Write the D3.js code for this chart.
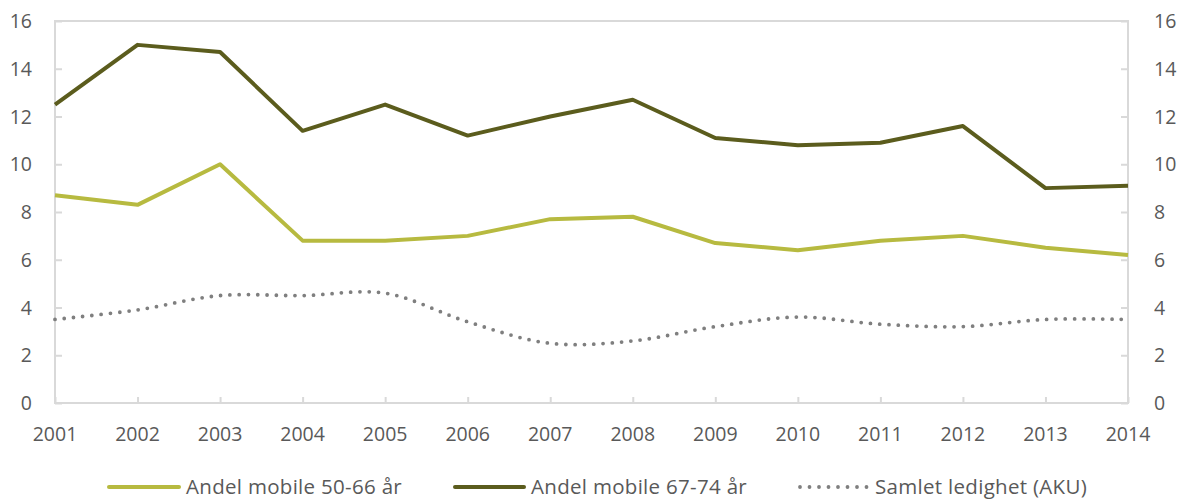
<!DOCTYPE html>
<html>
<head>
<meta charset="utf-8">
<script src="https://cdn.jsdelivr.net/npm/d3@7"></script>
<style>
  html, body { margin: 0; padding: 0; background: #fff; }
  svg text { font-family: "Open Sans", sans-serif; fill: #595959; }
</style>
</head>
<body>
<svg id="chart" width="1189" height="501"></svg>
<script>
// Years on the horizontal axis
const years = [2001, 2002, 2003, 2004, 2005, 2006, 2007, 2008, 2009, 2010, 2011, 2012, 2013, 2014];
// Share mobile, age 50-66 (%)
const mobile5066 = [8.7, 8.3, 10.0, 6.8, 6.8, 7.0, 7.7, 7.8, 6.7, 6.4, 6.8, 7.0, 6.5, 6.2];
// Share mobile, age 67-74 (%)
const mobile6774 = [12.5, 15.0, 14.7, 11.4, 12.5, 11.2, 12.0, 12.7, 11.1, 10.8, 10.9, 11.6, 9.0, 9.1];
// Total unemployment (AKU, %)
const unemployment = [3.5, 3.9, 4.5, 4.5, 4.6, 3.4, 2.5, 2.6, 3.2, 3.6, 3.3, 3.2, 3.5, 3.5];
// Value axis ticks
const yTicks = [0, 2, 4, 6, 8, 10, 12, 14, 16];
// Legend labels
const seriesNames = ["Andel mobile 50-66 år", "Andel mobile 67-74 år", "Samlet ledighet (AKU)"];

const svg = d3.select("#chart");
const plot = { left: 55, right: 1128, top: 21, bottom: 403 };
const axisColor = "#d9d9d9";

const x = d3.scalePoint().domain(years).range([plot.left, plot.right]);
const y = d3.scaleLinear().domain([0, 16]).range([plot.bottom, plot.top]);

// Frame of the plot area
svg.append("rect")
  .attr("x", plot.left).attr("y", plot.top)
  .attr("width", plot.right - plot.left).attr("height", plot.bottom - plot.top)
  .attr("fill", "none").attr("stroke", axisColor).attr("stroke-width", 2);

// Left value axis
const yLeft = svg.append("g").attr("transform", `translate(${plot.left},0)`)
  .call(d3.axisRight(y).tickValues(yTicks).tickSize(7).tickFormat(() => ""));
yLeft.select(".domain").remove();
yLeft.selectAll("line").attr("stroke", axisColor).attr("stroke-width", 2);
svg.append("g").selectAll("text").data(yTicks).join("text")
  .attr("x", 32).attr("y", d => y(d)).attr("dy", "0.36em")
  .attr("text-anchor", "end").attr("font-size", 19.5).text(d => d);

// Right value axis
const yRight = svg.append("g").attr("transform", `translate(${plot.right},0)`)
  .call(d3.axisLeft(y).tickValues(yTicks).tickSize(7).tickFormat(() => ""));
yRight.select(".domain").remove();
yRight.selectAll("line").attr("stroke", axisColor).attr("stroke-width", 2);
svg.append("g").selectAll("text").data(yTicks).join("text")
  .attr("x", 1154).attr("y", d => y(d)).attr("dy", "0.36em")
  .attr("text-anchor", "start").attr("font-size", 19.5).text(d => d);

// Category axis
const xAxis = svg.append("g").attr("transform", `translate(0,${plot.bottom})`)
  .call(d3.axisTop(x).tickSize(6).tickFormat(() => ""));
xAxis.select(".domain").remove();
xAxis.selectAll("line").attr("stroke", axisColor).attr("stroke-width", 2);
svg.append("g").selectAll("text").data(years).join("text")
  .attr("x", d => x(d)).attr("y", 441)
  .attr("text-anchor", "middle").attr("font-size", 19.5).text(d => d);

// Series lines
const straight = d3.line().x((d, i) => x(years[i])).y(d => y(d));
const smooth = d3.line().x((d, i) => x(years[i])).y(d => y(d)).curve(d3.curveCatmullRom.alpha(0.5));

svg.append("path").datum(unemployment).attr("d", smooth)
  .attr("fill", "none").attr("stroke", "#7f7f7f").attr("stroke-width", 3.8)
  .attr("stroke-linecap", "round").attr("stroke-dasharray", "0 9.3");
svg.append("path").datum(mobile5066).attr("d", straight)
  .attr("fill", "none").attr("stroke", "#b7ba40").attr("stroke-width", 4)
  .attr("stroke-linejoin", "round");
svg.append("path").datum(mobile6774).attr("d", straight)
  .attr("fill", "none").attr("stroke", "#5b5c1d").attr("stroke-width", 4)
  .attr("stroke-linejoin", "round");

// Legend
const legend = [
  { name: seriesNames[0], x1: 109, x2: 179, tx: 186, color: "#b7ba40", dash: null, w: 4 },
  { name: seriesNames[1], x1: 455, x2: 524, tx: 531, color: "#5b5c1d", dash: null, w: 4 },
  { name: seriesNames[2], x1: 800, x2: 868, tx: 875, color: "#7f7f7f", dash: "0 9.5", w: 3.8 }
];
const lg = svg.append("g").selectAll("g").data(legend).join("g");
lg.append("line")
  .attr("x1", d => d.x1).attr("x2", d => d.x2).attr("y1", 487).attr("y2", 487)
  .attr("stroke", d => d.color).attr("stroke-width", d => d.w)
  .attr("stroke-linecap", "round").attr("stroke-dasharray", d => d.dash);
lg.append("text")
  .attr("x", d => d.tx).attr("y", 487).attr("dy", "0.36em")
  .attr("font-size", 20.5).attr("letter-spacing", 0.3).text(d => d.name);
</script>
</body>
</html>
